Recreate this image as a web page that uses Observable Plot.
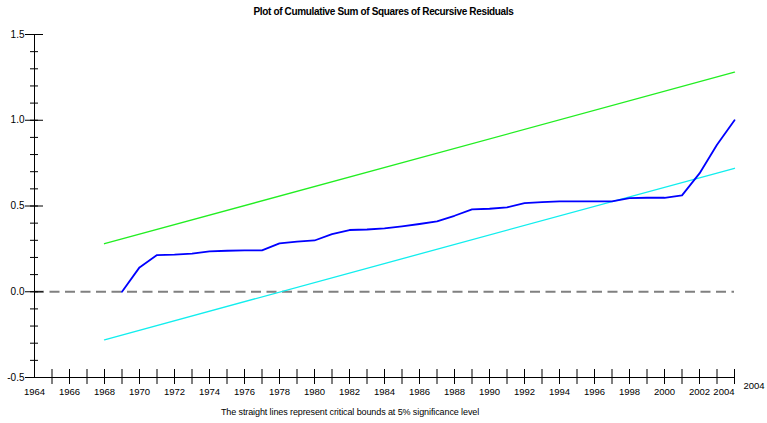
<!DOCTYPE html>
<html>
<head>
<meta charset="utf-8">
<script src="https://cdn.jsdelivr.net/npm/d3@7"></script>
<script src="https://cdn.jsdelivr.net/npm/@observablehq/plot@0.6"></script>
<style>
  html, body { margin: 0; padding: 0; background: #fff; }
  #wrap { width: 767px; height: 423px; position: relative; font-family: "Liberation Sans", Arial, sans-serif; }
  #title { height: 22px; line-height: 23px; text-align: center; font-weight: bold; font-size: 10px; letter-spacing: -0.35px; color: #000; }
  #caption { position: absolute; left: 0; top: 407px; width: 700px; text-align: center; font-size: 9px; letter-spacing: -0.1px; color: #000; }
  svg { display: block; }
</style>
</head>
<body>
<div id="wrap">
  <div id="title">Plot of Cumulative Sum of Squares of Recursive Residuals</div>
  <div id="chart"></div>
  <div id="caption">The straight lines represent critical bounds at 5% significance level</div>
</div>
<script>
// ---- data ----
const years = d3.range(1969, 2005);
const cusumsq = [0, 0.142, 0.214, 0.216, 0.222, 0.235, 0.239, 0.241, 0.241, 0.282,
  0.292, 0.299, 0.336, 0.360, 0.363, 0.369, 0.381, 0.395, 0.410, 0.443,
  0.480, 0.484, 0.492, 0.517, 0.523, 0.527, 0.527, 0.527, 0.527, 0.546,
  0.548, 0.548, 0.562, 0.690, 0.857, 1.000];
const boundYears = [1968, 2004];
const upperBound = [0.28, 1.28];
const lowerBound = [-0.28, 0.72];
const xTickYears = d3.range(1965, 2005);
const xLabelYears = d3.range(1964, 2005, 2);
const yMinorTicks = d3.range(-5, 16).map(d => d / 10);
const yMajorTicks = [-0.5, 0, 0.5, 1.0, 1.5];
const xEndLabel = "2004";

const series = years.map((y, i) => ({year: y, value: cusumsq[i]}));
const upper = boundYears.map((y, i) => ({year: y, value: upperBound[i]}));
const lower = boundYears.map((y, i) => ({year: y, value: lowerBound[i]}));
const xMin = 1964, xMax = 2004, yMin = -0.5, yMax = 1.5;

const font = "Liberation Sans, Arial, sans-serif";
const chart = Plot.plot({
  width: 767,
  height: 380,
  marginLeft: 34,
  marginRight: 33,
  marginTop: 12,
  marginBottom: 25,
  style: {fontFamily: font, fontSize: "9px", background: "#fff", color: "#000"},
  x: {domain: [xMin, xMax], label: null},
  y: {domain: [yMin, yMax], label: null},
  marks: [
    Plot.ruleY([0], {stroke: "#808080", strokeWidth: 2, strokeDasharray: "10,5.5"}),
    Plot.line(upper, {x: "year", y: "value", stroke: "#22ee22", strokeWidth: 1.3}),
    Plot.line(lower, {x: "year", y: "value", stroke: "#11eeee", strokeWidth: 1.3}),
    Plot.line(series, {x: "year", y: "value", stroke: "#0000ff", strokeWidth: 1.8}),
    // axis lines
    Plot.ruleX([xMin], {stroke: "#000", strokeWidth: 1}),
    Plot.ruleY([yMin], {stroke: "#000", strokeWidth: 1}),
    // y ticks
    Plot.axisY({ticks: yMinorTicks, tickSize: 8, dx: 4, tickFormat: () => "", label: null, stroke: "#000"}),
    Plot.axisY({ticks: yMajorTicks, tickSize: 18, dx: 9, tickFormat: () => "", label: null, stroke: "#000"}),
    Plot.text(yMajorTicks, {x: xMin, y: d => d, text: d => d.toFixed(1), dx: -10, textAnchor: "end", fontSize: 10, fill: "#000"}),
    // x ticks crossing the axis
    Plot.axisX({ticks: xTickYears, tickSize: 15, dy: -8, tickFormat: () => "", label: null, stroke: "#000"}),
    Plot.text(xLabelYears.slice(0, -1), {x: d => d, y: yMin, text: d => String(d), dy: 14, fontSize: 9.5, fill: "#000"}),
    Plot.text(xLabelYears.slice(-1), {x: d => d, y: yMin, text: d => String(d), dy: 14, textAnchor: "end", fontSize: 9.5, fill: "#000"}),
    Plot.text([xEndLabel], {x: xMax, y: yMin, text: d => d, dx: 9, dy: 8, textAnchor: "start", fontSize: 9.5, fill: "#000"})
  ]
});
document.getElementById("chart").appendChild(chart);
</script>
</body>
</html>
